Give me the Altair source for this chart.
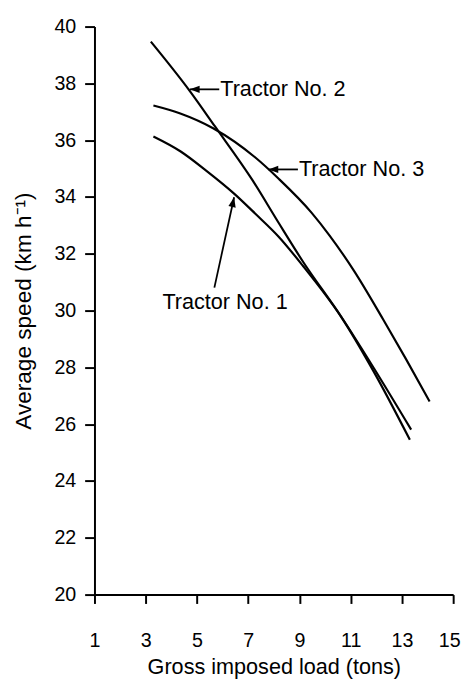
import altair as alt
import pandas as pd

# Values
t1_load = [3.3, 4.35, 5.37, 6.46, 7.29, 8.18, 9.14, 10.62, 11.9, 13.31]
t1_speed = [36.13, 35.61, 34.92, 34.11, 33.4, 32.61, 31.57, 29.79, 27.85, 25.45]
t2_load = [3.2, 4.73, 5.69, 7.16, 8.18, 9.14, 10.62, 11.9, 13.36]
t2_speed = [39.47, 37.72, 36.5, 34.6, 33.1, 31.72, 29.8, 27.98, 25.81]
t3_load = [3.3, 4.35, 5.63, 7.29, 8.18, 9.47, 10.17, 11.13, 12.28, 13.16, 14.08]
t3_speed = [37.22, 36.94, 36.42, 35.38, 34.65, 33.45, 32.65, 31.4, 29.67, 28.29, 26.8]

labels = ["Tractor No. 1", "Tractor No. 2", "Tractor No. 3"]
label_x = [3.65, 5.91, 8.98]
label_y = [30.29, 37.79, 34.97]
arrow_tail_x = [5.68, 5.87, 8.94]
arrow_tail_y = [30.81, 37.79, 34.97]
arrow_tip_x = [6.45, 4.72, 7.79]
arrow_tip_y = [33.99, 37.79, 34.97]
arrow_angle = [102, 0, 0]

x_ticks = list(range(1, 16))
y_ticks = list(range(20, 41, 2))

rows = []
for name, xs, ys in [("Tractor No. 1", t1_load, t1_speed),
                     ("Tractor No. 2", t2_load, t2_speed),
                     ("Tractor No. 3", t3_load, t3_speed)]:
    for a, b in zip(xs, ys):
        rows.append({"tractor": name, "load": a, "speed": b})
lines_df = pd.DataFrame(rows)

ann_df = pd.DataFrame({
    "label": labels, "lx": label_x, "ly": label_y,
    "tx": arrow_tail_x, "ty": arrow_tail_y,
    "hx": arrow_tip_x, "hy": arrow_tip_y, "ang": arrow_angle,
})

FONT = "Liberation Sans"

xscale = alt.Scale(domain=[1, 15], nice=False, zero=False)
yscale = alt.Scale(domain=[20, 40], nice=False, zero=False)

x_axis = alt.Axis(
    values=x_ticks,
    labelExpr="datum.value % 2 == 1 ? datum.label : ''",
    tickSize={"condition": {"test": "datum.value % 2 == 1", "value": 9}, "value": 5},
    labelOffset={"condition": {"test": "datum.value == 15", "value": -4}, "value": 0},
    labelFlush=False,
    labelPadding=28,
    labelFontSize=20,
    titleFontSize=22,
    titlePadding=6,
    grid=False,
)
y_axis = alt.Axis(
    values=y_ticks,
    tickSize=10,
    labelPadding=9,
    labelFontSize=20,
    titleFontSize=23,
    titlePadding=19,
    grid=False,
)

lines = alt.Chart(lines_df).mark_line(
    color="black", strokeWidth=2.2, interpolate="monotone"
).encode(
    x=alt.X("load:Q", scale=xscale, axis=x_axis, title="Gross imposed load (tons)"),
    y=alt.Y("speed:Q", scale=yscale, axis=y_axis, title="Average speed (km h\u207b\u00b9)"),
    detail="tractor:N",
)

shafts = alt.Chart(ann_df).mark_rule(color="black", strokeWidth=1.8).encode(
    x=alt.X("tx:Q", scale=xscale),
    y=alt.Y("ty:Q", scale=yscale),
    x2="hx:Q",
    y2="hy:Q",
)

heads = alt.Chart(ann_df).mark_point(
    shape="M0,0L2,-0.75L2,0.75Z", filled=True, color="black", opacity=1, size=100
).encode(
    x=alt.X("hx:Q", scale=xscale),
    y=alt.Y("hy:Q", scale=yscale),
    angle=alt.Angle("ang:Q", scale=None),
)

texts = alt.Chart(ann_df).mark_text(
    align="left", baseline="middle", font=FONT, fontSize=22, color="black"
).encode(
    x=alt.X("lx:Q", scale=xscale),
    y=alt.Y("ly:Q", scale=yscale),
    text="label:N",
)

chart = alt.layer(lines, shafts, heads, texts).properties(
    width=365,
    height=578,
    autosize=alt.AutoSizeParams(type="none"),
    padding={"left": 88, "top": 13, "right": 10, "bottom": 81},
    background="white",
).configure_view(stroke=None).configure_axis(
    domainColor="black", domainWidth=2, tickColor="black", tickWidth=2,
    labelColor="black", titleColor="black", labelFont=FONT, titleFont=FONT,
    titleFontWeight="normal",
)

chart.save("out.html", embed_options={"renderer": "svg", "actions": False})
